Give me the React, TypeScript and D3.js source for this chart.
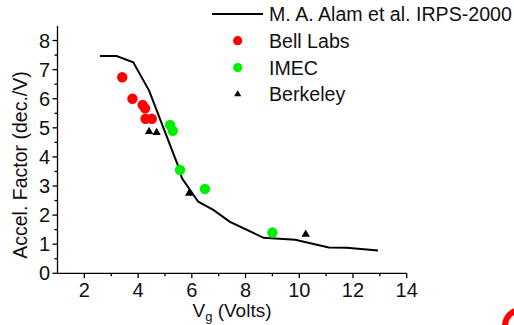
import * as d3 from "d3";
import React from "react";

// model curve (M. A. Alam et al.)
const alamX = [2.58, 3.2, 3.82, 4.41, 5.5, 5.63, 6.24, 6.8, 7.42, 8.67, 9.85, 11.1, 11.77, 12.93];
const alamY = [7.47, 7.47, 7.25, 6.28, 3.67, 3.27, 2.46, 2.18, 1.77, 1.22, 1.15, 0.89, 0.88, 0.78];

const bellX = [3.41, 3.79, 4.17, 4.26, 4.28, 4.51];
const bellY = [6.74, 6.0, 5.79, 5.67, 5.31, 5.31];

const imecX = [5.19, 5.29, 5.56, 6.49, 9.0];
const imecY = [5.1, 4.9, 3.55, 2.9, 1.4];

const berkX = [4.41, 4.69, 5.9, 10.24];
const berkY = [4.87, 4.84, 2.75, 1.34];

const xTicks = [2, 4, 6, 8, 10, 12, 14];
const yTicks = [0, 1, 2, 3, 4, 5, 6, 7, 8];
const legendLabels = ["M. A. Alam et al. IRPS-2000", "Bell Labs", "IMEC", "Berkeley"];

const FONT = "Arial, 'Liberation Sans', Helvetica, sans-serif";

export default function App() {
  const x = d3.scaleLinear().domain([1, 14]).range([57.5, 406.7]);
  const y = d3.scaleLinear().domain([0, 8.5]).range([273.3, 26]);

  const line = d3
    .line<number>()
    .x((d) => x(d))
    .y((d, i) => y(alamY[i]));

  const tri = d3.symbol(d3.symbolTriangle, 30)();
  const triSmall = d3.symbol(d3.symbolTriangle, 22)();

  const xMinor = d3.range(3, 14, 2);
  const yMinor = d3.range(0.5, 8.5, 1);

  const legY = [14, 40.7, 67.5, 94.3];

  return (
    <svg
      width={514}
      height={325}
      style={{ position: "absolute", left: 0, top: 0, background: "#fff" }}
      fontFamily={FONT}
    >
      {/* axes */}
      <g stroke="#000" strokeWidth={1.3}>
        <line x1={x(1)} x2={x(14)} y1={y(0)} y2={y(0)} />
        <line x1={x(1)} x2={x(1)} y1={y(0)} y2={y(8.5)} />
        {xTicks.map((t) => (
          <line key={"xt" + t} x1={x(t)} x2={x(t)} y1={y(0)} y2={y(0) + 5} />
        ))}
        {xMinor.map((t) => (
          <line key={"xm" + t} x1={x(t)} x2={x(t)} y1={y(0)} y2={y(0) + 3} />
        ))}
        {yTicks.map((t) => (
          <line key={"yt" + t} x1={x(1) - 5} x2={x(1)} y1={y(t)} y2={y(t)} />
        ))}
        {yMinor.map((t) => (
          <line key={"ym" + t} x1={x(1) - 3} x2={x(1)} y1={y(t)} y2={y(t)} />
        ))}
      </g>
      <g fontSize={20} fill="#111">
        {xTicks.map((t) => (
          <text key={"xl" + t} x={x(t)} y={297} textAnchor="middle">
            {t}
          </text>
        ))}
        {yTicks.map((t) => (
          <text key={"yl" + t} x={50} y={y(t) + 7} textAnchor="end">
            {t}
          </text>
        ))}
      </g>
      <g fontSize={19} fill="#111">
        <text x={232} y={317} textAnchor="middle">
          V<tspan fontSize={13} dy={4}>g</tspan>
          <tspan dy={-4}> (Volts)</tspan>
        </text>
        <text transform="translate(27,165) rotate(-90)" textAnchor="middle" fontSize={19.5}>
          Accel. Factor (dec./V)
        </text>
      </g>

      {/* model curve */}
      <path d={line(alamX) || ""} fill="none" stroke="#000" strokeWidth={2} />

      {/* data */}
      {bellX.map((v, i) => (
        <circle key={"b" + i} cx={x(v)} cy={y(bellY[i])} r={5.2} fill="#ff0000" />
      ))}
      {imecX.map((v, i) => (
        <circle key={"i" + i} cx={x(v)} cy={y(imecY[i])} r={5.2} fill="#00ee00" />
      ))}
      {berkX.map((v, i) => (
        <path key={"k" + i} d={tri || ""} transform={`translate(${x(v)},${y(berkY[i])})`} fill="#000" />
      ))}

      {/* legend */}
      <line x1={212} x2={263} y1={legY[0]} y2={legY[0]} stroke="#000" strokeWidth={2} />
      <circle cx={237.7} cy={legY[1]} r={4.6} fill="#ff0000" />
      <circle cx={237.7} cy={legY[2]} r={4.6} fill="#00ee00" />
      <path d={triSmall || ""} transform={`translate(237.7,${legY[3]})`} fill="#000" />
      <g fontSize={19.6} fill="#111">
        {legendLabels.map((l, i) => (
          <text key={l} x={269} y={legY[i] + 7}>
            {l}
          </text>
        ))}
      </g>

      {/* corner logo fragment */}
      <circle cx={521} cy={326} r={16} fill="none" stroke="#ff0000" strokeWidth={6} />
    </svg>
  );
}
